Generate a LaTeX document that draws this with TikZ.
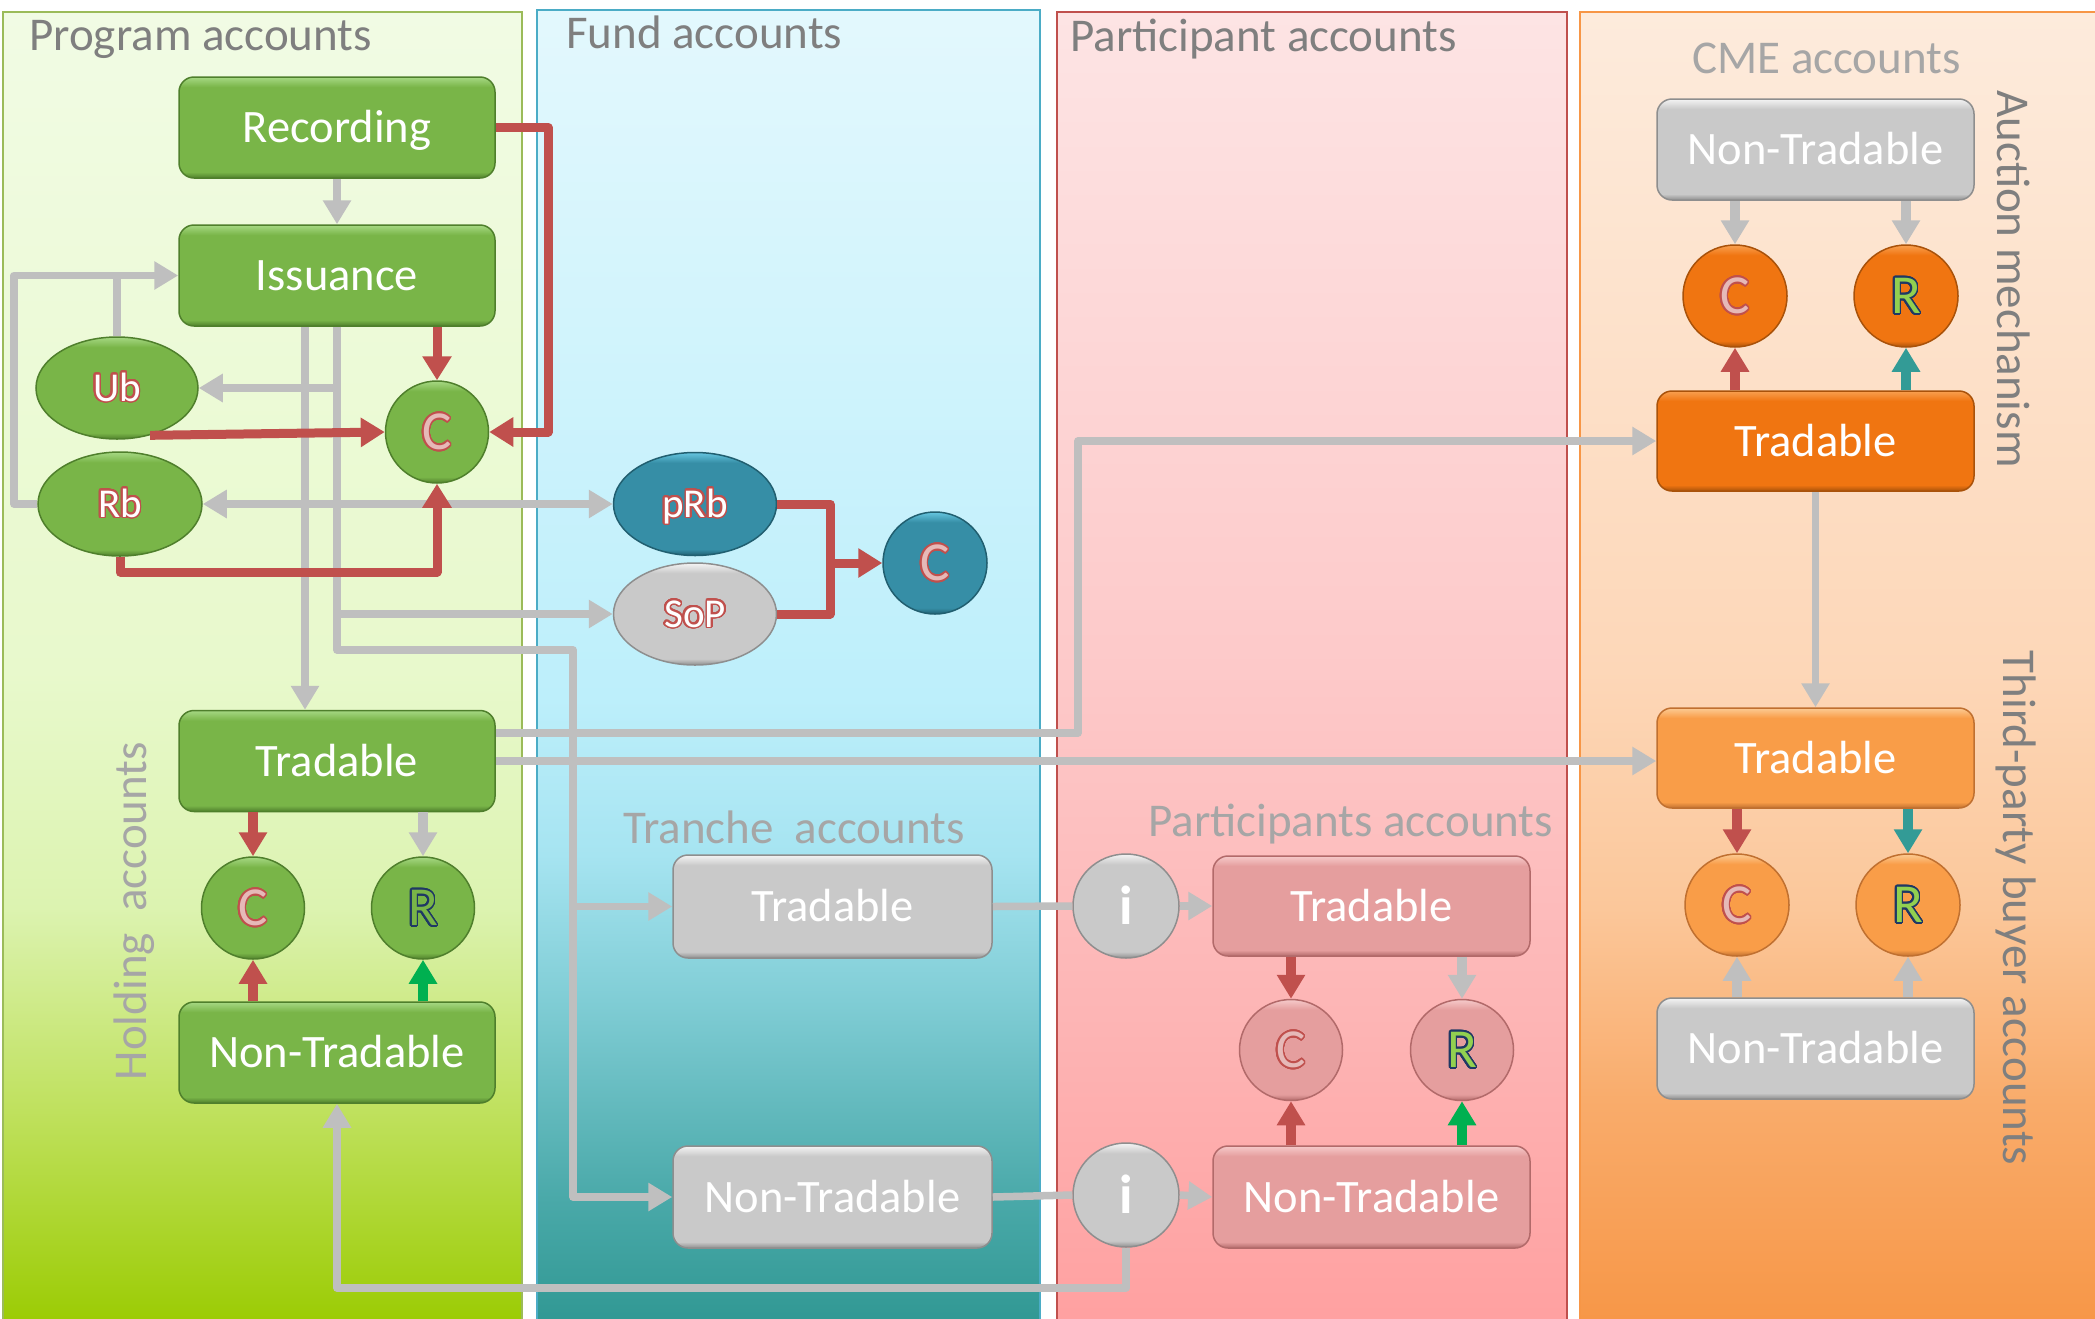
\documentclass[tikz,border=0pt]{standalone}
\usepackage{fontspec}
\setmainfont{Carlito}
\usepackage{contour}
\contournumber{32}
\contourlength{1.6pt}
\usetikzlibrary{arrows.meta,shapes.geometric,calc}
% colours
\definecolor{gB}{HTML}{79B548}\definecolor{gD}{HTML}{4F7F2C}\definecolor{gL}{HTML}{A6D884}
\definecolor{yB}{HTML}{C9C9C9}\definecolor{yD}{HTML}{8E8E8E}\definecolor{yL}{HTML}{F4F4F4}
\definecolor{kB}{HTML}{E59E9E}\definecolor{kD}{HTML}{B26A6A}\definecolor{kL}{HTML}{F6CACA}
\definecolor{tB}{HTML}{368EA6}\definecolor{tD}{HTML}{215F70}\definecolor{tL}{HTML}{66C6E0}
\definecolor{oB}{HTML}{F07511}\definecolor{oD}{HTML}{A9520A}\definecolor{oL}{HTML}{F9A050}
\definecolor{qB}{HTML}{F99D48}\definecolor{qD}{HTML}{C07030}\definecolor{qL}{HTML}{FCCB94}
\definecolor{lg}{HTML}{BFBFBF}\definecolor{cR}{HTML}{C0504D}\definecolor{cP}{HTML}{E6B9B8}
\definecolor{cN}{HTML}{1F3864}\definecolor{cLG}{HTML}{92D050}\definecolor{cGr}{HTML}{00B050}
\definecolor{cTe}{HTML}{339B96}\definecolor{tx1}{HTML}{7F7F7F}\definecolor{tx2}{HTML}{A6A6A6}
\definecolor{pg1}{HTML}{9ACB00}\definecolor{pg2}{HTML}{BEE05A}\definecolor{pg3}{HTML}{DCF3B0}
\definecolor{pg4}{HTML}{E8F9CC}\definecolor{pg5}{HTML}{F1FBE4}\definecolor{pgb}{HTML}{9BBB59}
\definecolor{pf1}{HTML}{2F9792}\definecolor{pf2}{HTML}{4AA9A9}\definecolor{pf3}{HTML}{80CDD5}
\definecolor{pf4}{HTML}{A6E4F1}\definecolor{pf5}{HTML}{BDEFFB}\definecolor{pf6}{HTML}{E3F8FD}
\definecolor{pfb}{HTML}{4BACC6}
\definecolor{pp1}{HTML}{FFA0A0}\definecolor{pp2}{HTML}{FDB5B5}\definecolor{pp3}{HTML}{FDC9C9}
\definecolor{pp4}{HTML}{FDE4E4}\definecolor{ppb}{HTML}{C0504D}
\definecolor{po1}{HTML}{F79646}\definecolor{po2}{HTML}{F9AB6A}\definecolor{po3}{HTML}{FBC79A}
\definecolor{po4}{HTML}{FDD7B8}\definecolor{po5}{HTML}{FDEBDC}\definecolor{pob}{HTML}{F79646}
% shadings
\pgfdeclareverticalshading{shG}{100bp}{color(0bp)=(gD); color(25bp)=(gD); color(28bp)=(gB); color(70bp)=(gB); color(75bp)=(gL); color(100bp)=(gL)}
\pgfdeclareverticalshading{shY}{100bp}{color(0bp)=(yD); color(25bp)=(yD); color(28bp)=(yB); color(70bp)=(yB); color(75bp)=(yL); color(100bp)=(yL)}
\pgfdeclareverticalshading{shK}{100bp}{color(0bp)=(kD); color(25bp)=(kD); color(28bp)=(kB); color(70bp)=(kB); color(75bp)=(kL); color(100bp)=(kL)}
\pgfdeclareverticalshading{shT}{100bp}{color(0bp)=(tD); color(25bp)=(tD); color(28bp)=(tB); color(70bp)=(tB); color(75bp)=(tL); color(100bp)=(tL)}
\pgfdeclareverticalshading{shO}{100bp}{color(0bp)=(oD); color(25bp)=(oD); color(28bp)=(oB); color(70bp)=(oB); color(75bp)=(oL); color(100bp)=(oL)}
\pgfdeclareverticalshading{shQ}{100bp}{color(0bp)=(qD); color(25bp)=(qD); color(28bp)=(qB); color(70bp)=(qB); color(75bp)=(qL); color(100bp)=(qL)}
\pgfdeclareverticalshading{panG}{100bp}{color(0bp)=(pg1); color(25bp)=(pg1); color(33bp)=(pg2); color(41bp)=(pg3); color(50bp)=(pg4); color(75bp)=(pg5); color(100bp)=(pg5)}
\pgfdeclareverticalshading{panF}{100bp}{color(0bp)=(pf1); color(25bp)=(pf1); color(30bp)=(pf2); color(37.5bp)=(pf3); color(43bp)=(pf4); color(49bp)=(pf5); color(75bp)=(pf6); color(100bp)=(pf6)}
\pgfdeclareverticalshading{panP}{100bp}{color(0bp)=(pp1); color(25bp)=(pp1); color(37bp)=(pp2); color(50bp)=(pp3); color(75bp)=(pp4); color(100bp)=(pp4)}
\pgfdeclareverticalshading{panO}{100bp}{color(0bp)=(po1); color(25bp)=(po1); color(33.5bp)=(po2); color(41bp)=(po3); color(50bp)=(po4); color(75bp)=(po5); color(100bp)=(po5)}
\newcommand\fz[1]{\fontsize{#1}{#1}\selectfont}
\newcommand\otx[3]{{\color{#1}\contour{#2}{#3}}}
\tikzset{
  box/.style={rectangle, rounded corners=15pt, minimum width=316pt, minimum height=101pt,
    inner sep=0pt, font=\fz{46.5}, text=white, text height=30pt, text depth=0pt, line width=1.5pt},
  oval/.style={ellipse, inner sep=0pt, line width=1.5pt, minimum width=103pt, minimum height=102pt,
    font=\fz{55}, text height=35pt, text depth=0pt},
  bigoval/.style={ellipse, inner sep=0pt, line width=1.5pt, minimum width=163pt, minimum height=103pt,
    font=\fz{41}, text height=26pt, text depth=0pt},
  fG/.style={shading=shG, draw=gD},
  fY/.style={shading=shY, draw=yD},
  fK/.style={shading=shK, draw=kD},
  fT/.style={shading=shT, draw=tD},
  fO/.style={shading=shO, draw=oD},
  fQ/.style={shading=shQ, draw=qD},
  ga/.style={draw=lg, line width=7.5pt, line join=round, -{Triangle[length=24pt,width=27pt]}},
  gdbl/.style={draw=lg, line width=7.5pt, {Triangle[length=24pt,width=27pt]}-{Triangle[length=24pt,width=27pt]}},
  gl/.style={draw=lg, line width=7.5pt, line join=round},
  ra/.style={draw=cR, line width=9pt, line join=round, -{Triangle[length=24pt,width=28pt]}},
  rl/.style={draw=cR, line width=9pt, line join=round},
  stub/.style={line width=10pt, -{Triangle[length=24pt,width=27pt]}},
  ttl/.style={font=\fz{47}, text=tx1, inner sep=0pt},
  sub/.style={font=\fz{47}, text=tx2, inner sep=0pt},
}
\begin{document}
\begin{tikzpicture}[x=1pt,y=-1pt]
\useasboundingbox (0,0) rectangle (2095,1318);
\clip (0,0) rectangle (2095,1318);
\fill[white] (0,0) rectangle (2095,1318);
% panels
\path[shading=panG, draw=pgb, line width=2pt] (3,12) rectangle (522,1330);
\path[shading=panF, draw=pfb, line width=2pt] (537,10) rectangle (1040,1330);
\path[shading=panP, draw=ppb, line width=2pt] (1057,12) rectangle (1567,1330);
\path[shading=panO, draw=pob, line width=2pt] (1580,12) rectangle (2110,1330);
% titles
\node[ttl, anchor=base west] (tProg) at (29,50) {Program accounts};
\node[ttl, anchor=base west] (tFund) at (566,48) {Fund accounts};
\node[ttl, anchor=base west] (tPart) at (1070,51) {Participant accounts};
\node[sub, anchor=base west] (tTr) at (623,843) {Tranche\ \ accounts};
\node[sub, anchor=base west] (tPa) at (1148,836) {Participants accounts};
\node[sub, anchor=base west] (tCME) at (1692,73) {CME accounts};
\node[sub, anchor=base, rotate=90] (tHold) at (146,911) {Holding\ \ accounts};
\node[ttl, anchor=base, rotate=-90] (tAuc) at (1997,279) {Auction mechanism};
\node[ttl, anchor=base, rotate=-90] (tThird) at (2003,908) {Third-party buyer accounts};
% program nodes
\node[box,fG] (rec) at (337,127.5) {Recording};
\node[box,fG] (iss) at (337,275.5) {Issuance};
\node[bigoval,fG,minimum width=162pt,minimum height=102pt] (ub) at (117,388) {\otx{white}{cR}{Ub}};
\node[bigoval,fG,minimum width=164pt,minimum height=104pt] (rb) at (120,504) {\otx{white}{cR}{Rb}};
\node[oval,fG] (cb) at (437,432) {\otx{cP}{cR}{C}};
\node[box,fG] (trG) at (337,761) {Tradable};
\node[box,fG] (ntG) at (337,1052.5) {Non-Tradable};
\node[oval,fG] (cg) at (253,908) {\otx{cP}{cR}{C}};
\node[oval,fG] (rg) at (423,908) {\otx{gB}{cN}{R}};
% fund nodes
\node[bigoval,fT] (prb) at (695,504) {\otx{white}{cR}{pRb}};
\node[bigoval,fY,minimum height=102pt] (sop) at (695,614) {\otx{white}{cR}{SoP}};
\node[oval,fT,minimum width=104pt] (cf) at (935,563) {\otx{cP}{cR}{C}};
\node[box,fY,minimum width=319pt,minimum height=103pt] (tt) at (832.5,906.5) {Tradable};
\node[box,fY,minimum width=319pt,minimum height=102pt] (tnt) at (832.5,1197) {Non-Tradable};
% participant nodes
\node[oval,fY,minimum width=106pt,minimum height=104pt,font=\fz{55}\bfseries,text=white,text height=37pt] (i1) at (1126,906) {i};
\node[oval,fY,minimum width=106pt,minimum height=104pt,font=\fz{55}\bfseries,text=white,text height=37pt] (i2) at (1126,1195) {i};
\node[box,fK,minimum width=317pt,minimum height=100pt] (pt) at (1371.5,906) {Tradable};
\node[box,fK,minimum width=317pt,minimum height=102pt] (pnt) at (1371.5,1197) {Non-Tradable};
\node[oval,fK,minimum height=101pt] (cp) at (1291,1050) {\otx{cP}{cR}{C}};
\node[oval,fK,minimum height=101pt] (rp) at (1462,1050) {\otx{cLG}{cN}{R}};
% CME nodes
\node[box,fY,minimum width=317pt] (cnt) at (1815.5,149.5) {Non-Tradable};
\node[oval,fO,minimum width=104pt] (cc) at (1735,296) {\otx{cP}{cR}{C}};
\node[oval,fO,minimum width=104pt] (cr) at (1906,296) {\otx{cLG}{cN}{R}};
\node[box,fO,minimum width=317pt,minimum height=100pt] (ctr) at (1815.5,441) {Tradable};
% third-party nodes
\node[box,fQ,minimum width=317pt,minimum height=100pt] (qtr) at (1815.5,758) {Tradable};
\node[oval,fQ,minimum width=104pt] (qc) at (1737,905) {\otx{cP}{cR}{C}};
\node[oval,fQ,minimum width=104pt] (qr) at (1908,905) {\otx{cLG}{cN}{R}};
\node[box,fY,minimum width=317pt] (qnt) at (1815.5,1048.5) {Non-Tradable};
% ---------- gray connectors ----------
\draw[ga] (rec) -- (iss);
\draw[ga] (rb.west) -- (14,504) -- (14,275.5) -- (iss.west);
\draw[gl] (ub.north) -- (117,275.5);
\draw[ga] ($(iss.south)+(-32,0)$) -- ($(trG.north)+(-32,0)$);
\draw[ga] (iss.south) -- (337,388) -- (ub.east);
\draw[ga] (iss.south) -- (337,614) -- (sop.west);
\draw[ga] (iss.south) -- (337,650) -- (573,650) -- (573,1197) -- (tnt.west);
\draw[ga] (573,906.5) -- (tt.west);
\draw[gdbl] (rb.east) -- (prb.west);
\draw[ga] ($(trG.east)+(0,-28)$) -- (1078,733) -- (1078,441) -- (ctr.west);
\draw[ga] (trG.east) -- (trG.east -| qtr.west);
\draw[gl] (tt.east) -- (i1.west);
\draw[ga] (i1.east) -- (pt.west);
\draw[gl] (tnt.east) -- (i2.west);
\draw[ga] (i2.east) -- (pnt.west);
\draw[ga] (i2.south) -- (1126,1288) -- (337,1288) -- (ntG.south);
\draw[ga] (ctr.south) -- (qtr.north);
% ---------- red connectors ----------
\draw[ra] (iss.south -| cb.north) -- (cb.north);
\draw[ra] (rec.east) -- (548,127.5) -- (548,432) -- (cb.east);
\draw[ra] (ub.-55) -- (cb.west);
\draw[ra] (rb.south) -- (120,572) -- (437,572) -- (cb.south);
\draw[rl] (prb.east) -- (830,504) -- (830,614) -- (sop.east);
\draw[ra] (830,563) -- (cf.west);
% ---------- stubs ----------
\draw[stub,draw=cR] (trG.south -| cg.north) -- (cg.north);
\draw[stub,draw=lg] (trG.south -| rg.north) -- (rg.north);
\draw[stub,draw=cR] (ntG.north -| cg.south) -- (cg.south);
\draw[stub,draw=cGr] (ntG.north -| rg.south) -- (rg.south);
\draw[stub,draw=cR] (pt.south -| cp.north) -- (cp.north);
\draw[stub,draw=lg] (pt.south -| rp.north) -- (rp.north);
\draw[stub,draw=cR] (pnt.north -| cp.south) -- (cp.south);
\draw[stub,draw=cGr] (pnt.north -| rp.south) -- (rp.south);
\draw[stub,draw=lg] (cnt.south -| cc.north) -- (cc.north);
\draw[stub,draw=lg] (cnt.south -| cr.north) -- (cr.north);
\draw[stub,draw=cR] (ctr.north -| cc.south) -- (cc.south);
\draw[stub,draw=cTe] (ctr.north -| cr.south) -- (cr.south);
\draw[stub,draw=cR] (qtr.south -| qc.north) -- (qc.north);
\draw[stub,draw=cTe] (qtr.south -| qr.north) -- (qr.north);
\draw[stub,draw=lg] (qnt.north -| qc.south) -- (qc.south);
\draw[stub,draw=lg] (qnt.north -| qr.south) -- (qr.south);
\end{tikzpicture}
\end{document}
